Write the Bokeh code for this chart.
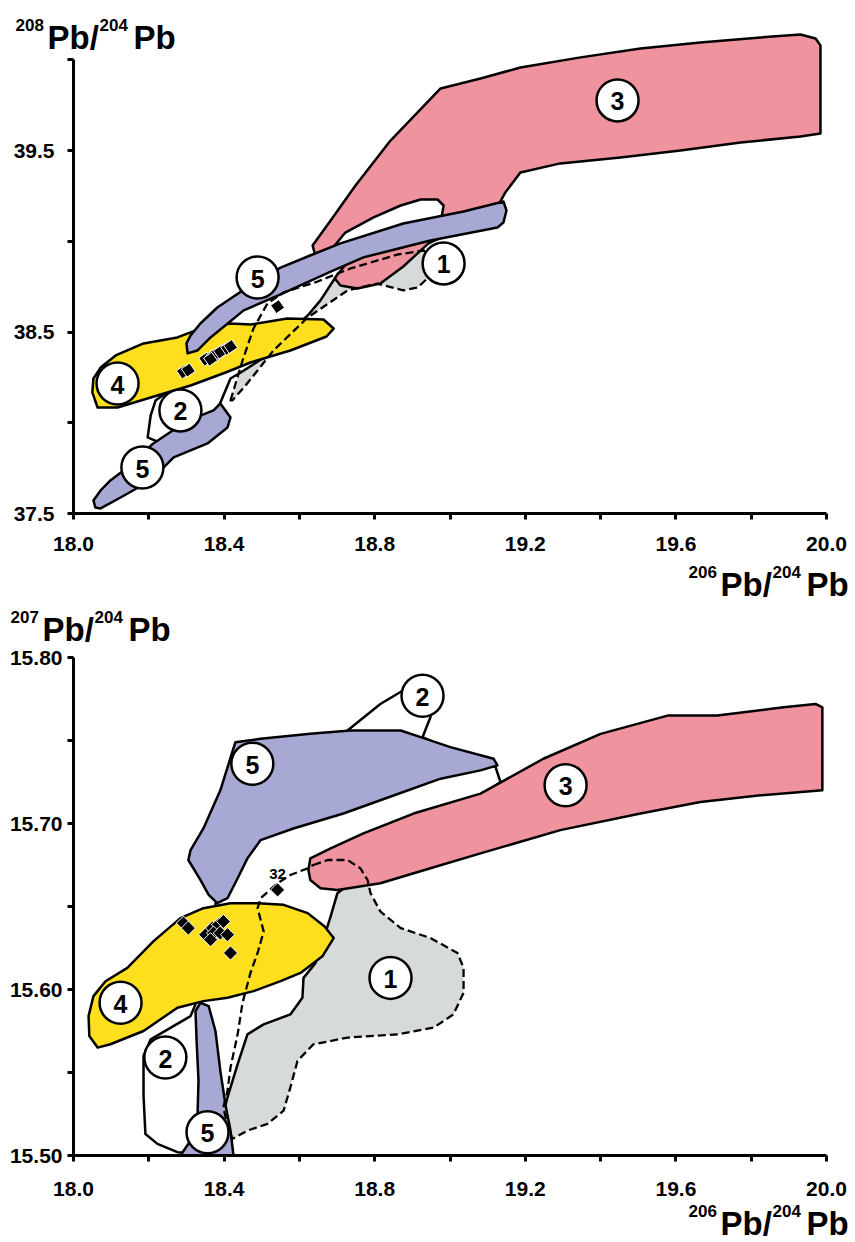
from bokeh.plotting import figure
from bokeh.layouts import column
from bokeh.models import Range1d, FixedTicker, PrintfTickFormatter, Label
from bokeh.core.properties import value
from bokeh.embed import file_html
from bokeh.resources import INLINE

FONT = "Liberation Sans"

# ---------------- data ----------------
x_ticks = [18.0, 18.4, 18.8, 19.2, 19.6, 20.0]
x_minor = [18.2, 18.6, 19.0, 19.4, 19.8]
y1_ticks = [37.5, 38.5, 39.5]
y1_minor = [38.0, 39.0, 40.0]
y2_ticks = [15.50, 15.60, 15.70, 15.80]
y2_minor = [15.55, 15.65, 15.75]

# ---- upper panel (208Pb/204Pb vs 206Pb/204Pb) fields ----
f1_top_x = [18.417, 18.433, 18.449, 18.478, 18.515, 18.558, 18.648, 18.736, 18.861, 18.930, 18.967, 18.948, 18.914, 18.876, 18.807, 18.728, 18.622, 18.531, 18.457, 18.422]
f1_top_y = [38.123, 38.233, 38.343, 38.519, 38.657, 38.718, 38.778, 38.850, 38.927, 38.949, 38.916, 38.811, 38.745, 38.729, 38.767, 38.729, 38.580, 38.398, 38.205, 38.123]

f3_top_x = [18.635, 18.683, 18.749, 18.842, 18.975, 19.081, 19.187, 19.347, 19.506, 19.665, 19.825, 19.931, 19.971, 19.984, 19.984, 19.931, 19.772, 19.612, 19.453, 19.293, 19.187, 19.147, 19.121, 19.028, 18.943, 18.908, 18.876, 18.815, 18.754, 18.709, 18.677, 18.643]
f3_top_y = [38.977, 39.114, 39.307, 39.555, 39.842, 39.897, 39.957, 40.013, 40.062, 40.095, 40.123, 40.139, 40.117, 40.079, 39.594, 39.577, 39.544, 39.500, 39.462, 39.429, 39.379, 39.269, 39.170, 39.070, 38.988, 38.922, 38.861, 38.767, 38.740, 38.756, 38.839, 38.916]

f2_top_x = [18.197, 18.205, 18.218, 18.271, 18.351, 18.377, 18.470, 18.576, 18.629, 18.683, 18.722, 18.797, 18.869, 18.922, 18.967, 18.983, 18.977, 18.922, 18.815, 18.736, 18.699, 18.656, 18.622, 18.563, 18.502, 18.444, 18.417, 18.388, 18.351, 18.258]
f2_top_y = [37.919, 38.040, 38.123, 38.205, 38.426, 38.536, 38.701, 38.839, 38.883, 38.949, 39.048, 39.131, 39.197, 39.230, 39.230, 39.197, 39.125, 39.081, 38.993, 38.905, 38.811, 38.674, 38.591, 38.481, 38.354, 38.277, 38.244, 38.101, 38.012, 37.864]

f4_top_x = [18.064, 18.050, 18.053, 18.072, 18.112, 18.186, 18.276, 18.337, 18.417, 18.470, 18.568, 18.664, 18.691, 18.672, 18.576, 18.470, 18.404, 18.311, 18.205, 18.117]
f4_top_y = [38.084, 38.167, 38.244, 38.304, 38.371, 38.437, 38.470, 38.519, 38.547, 38.541, 38.574, 38.569, 38.519, 38.475, 38.398, 38.332, 38.277, 38.205, 38.139, 38.084]

f5a_top_x = [18.303, 18.300, 18.311, 18.337, 18.382, 18.457, 18.550, 18.622, 18.709, 18.876, 19.036, 19.142, 19.150, 19.142, 19.126, 18.948, 18.770, 18.683, 18.550, 18.452, 18.364, 18.329]
f5a_top_y = [38.382, 38.437, 38.481, 38.547, 38.635, 38.740, 38.855, 38.916, 38.988, 39.098, 39.164, 39.219, 39.170, 39.103, 39.076, 39.004, 38.911, 38.833, 38.707, 38.619, 38.470, 38.398]

f5b_top_x = [18.058, 18.053, 18.072, 18.098, 18.133, 18.212, 18.303, 18.372, 18.390, 18.417, 18.409, 18.356, 18.266, 18.205, 18.125, 18.072]
f5b_top_y = [37.533, 37.572, 37.627, 37.682, 37.737, 37.886, 38.012, 38.068, 38.106, 38.029, 37.974, 37.886, 37.809, 37.682, 37.588, 37.528]

# ---- lower panel (207Pb/204Pb vs 206Pb/204Pb) fields ----
f1_bot_x = [18.637, 18.675, 18.728, 18.762, 18.781, 18.789, 18.815, 18.869, 18.948, 19.020, 19.036, 19.036, 19.009, 18.956, 18.861, 18.728, 18.637, 18.595, 18.576, 18.558, 18.515, 18.462, 18.422, 18.406, 18.398, 18.409, 18.417, 18.436, 18.449, 18.470, 18.489, 18.505, 18.489, 18.497, 18.542, 18.576, 18.622]
f1_bot_y = [15.675, 15.678, 15.678, 15.673, 15.666, 15.658, 15.647, 15.637, 15.631, 15.622, 15.613, 15.598, 15.585, 15.577, 15.573, 15.571, 15.567, 15.557, 15.541, 15.527, 15.519, 15.515, 15.510, 15.521, 15.529, 15.539, 15.553, 15.573, 15.592, 15.610, 15.622, 15.635, 15.649, 15.655, 15.664, 15.669, 15.673]

f2_bot_x = [18.276, 18.223, 18.191, 18.186, 18.186, 18.205, 18.311, 18.372, 18.377, 18.396, 18.497, 18.656, 18.722, 18.815, 18.874, 18.900, 18.948, 18.954, 18.948, 18.927, 19.054, 19.121, 19.134, 19.054, 18.922, 18.762, 18.701, 18.683, 18.669, 18.643, 18.611, 18.608, 18.576, 18.505, 18.462, 18.436, 18.409, 18.396, 18.377, 18.356]
f2_bot_y = [15.502, 15.507, 15.513, 15.536, 15.560, 15.570, 15.584, 15.617, 15.651, 15.684, 15.720, 15.747, 15.755, 15.772, 15.780, 15.786, 15.788, 15.774, 15.764, 15.752, 15.738, 15.734, 15.725, 15.711, 15.699, 15.669, 15.658, 15.644, 15.634, 15.616, 15.607, 15.595, 15.585, 15.579, 15.573, 15.555, 15.535, 15.524, 15.509, 15.501]

f3_bot_x = [18.624, 18.629, 18.683, 18.770, 18.903, 19.081, 19.248, 19.400, 19.578, 19.710, 19.886, 19.971, 19.989, 19.989, 19.825, 19.665, 19.506, 19.293, 19.081, 18.948, 18.815, 18.701, 18.656, 18.629]
f3_bot_y = [15.672, 15.679, 15.685, 15.694, 15.706, 15.718, 15.739, 15.754, 15.765, 15.765, 15.770, 15.772, 15.770, 15.720, 15.717, 15.713, 15.706, 15.696, 15.682, 15.673, 15.664, 15.660, 15.661, 15.666]

f4_bot_x = [18.064, 18.042, 18.040, 18.053, 18.085, 18.143, 18.212, 18.284, 18.345, 18.417, 18.489, 18.558, 18.622, 18.667, 18.691, 18.661, 18.603, 18.550, 18.478, 18.409, 18.345, 18.276, 18.186, 18.098]
f4_bot_y = [15.565, 15.572, 15.584, 15.596, 15.605, 15.613, 15.629, 15.643, 15.649, 15.652, 15.652, 15.651, 15.646, 15.638, 15.631, 15.620, 15.610, 15.605, 15.599, 15.595, 15.593, 15.589, 15.575, 15.567]

f5a_bot_x = [18.430, 18.497, 18.629, 18.736, 18.815, 18.869, 18.922, 19.001, 19.116, 19.126, 19.081, 18.975, 18.815, 18.717, 18.584, 18.497, 18.462, 18.436, 18.409, 18.382, 18.359, 18.337, 18.305, 18.311, 18.345, 18.390]
f5a_bot_y = [15.749, 15.751, 15.754, 15.756, 15.756, 15.756, 15.752, 15.746, 15.739, 15.735, 15.732, 15.727, 15.714, 15.706, 15.697, 15.690, 15.679, 15.667, 15.655, 15.652, 15.657, 15.666, 15.678, 15.684, 15.697, 15.720]

f5b_bot_x = [18.337, 18.359, 18.377, 18.390, 18.404, 18.417, 18.425, 18.284, 18.311, 18.329, 18.332, 18.327, 18.324]
f5b_bot_y = [15.592, 15.590, 15.575, 15.551, 15.530, 15.515, 15.500, 15.500, 15.509, 15.521, 15.545, 15.569, 15.587]

# ---- samples (black diamonds) ----
pb206 = [18.292, 18.305, 18.351, 18.369, 18.385, 18.398, 18.372, 18.390, 18.409, 18.364, 18.417, 18.542]
pb208 = [38.28, 38.29, 38.35, 38.36, 38.38, 38.40, 38.37, 38.39, 38.41, 38.35, 38.42, 38.64]
pb207 = [15.640, 15.637, 15.633, 15.637, 15.639, 15.641, 15.634, 15.634, 15.633, 15.630, 15.622, 15.660]
sample_note = "32"

# ---- field number markers ----
tag_top_txt = ["4", "2", "5", "5", "1", "3"]
tag_top_x = [18.117, 18.284, 18.183, 18.489, 18.983, 19.445]
tag_top_y = [38.216, 38.068, 37.753, 38.800, 38.878, 39.776]
tag_bot_txt = ["2", "5", "3", "1", "4", "2", "5"]
tag_bot_x = [18.927, 18.475, 19.307, 18.842, 18.125, 18.244, 18.356]
tag_bot_y = [15.777, 15.736, 15.723, 15.607, 15.592, 15.559, 15.514]

# ---------------- styling / layout ----------------
PINK = "#EF939F"
BLUE = "#A7A9D4"
YELLOW = "#FEDF1E"
GRAY = "#D7DADA"

W = 855
H1, H2 = 604, 638
AX_X0 = 73          # page x of 18.0
PPX = 376.5         # px per unit of 206Pb/204Pb
AX1_Y0 = 513        # page y of 37.5 (upper panel)
PPY1 = 181.5
AX2_Y0 = 1155       # page y of 15.50 (lower panel)
PPY2 = 1660.0

XR = (18.0 - AX_X0 / PPX, 18.0 + (W - AX_X0) / PPX)
YR1 = (37.5 - (H1 - AX1_Y0) / PPY1, 37.5 + AX1_Y0 / PPY1)
YR2 = (15.5 - (H1 + H2 - AX2_Y0) / PPY2, 15.5 + (AX2_Y0 - H1) / PPY2)


def make_fig(h, yr, xloc, yloc):
    p = figure(width=W, height=h, output_backend="svg", toolbar_location=None,
               x_range=Range1d(*XR), y_range=Range1d(*yr),
               min_border=0, min_border_left=0, min_border_right=0,
               min_border_top=0, min_border_bottom=0)
    p.xgrid.visible = False
    p.ygrid.visible = False
    p.outline_line_color = None
    p.background_fill_color = "white"
    p.border_fill_color = "white"
    for ax in (p.xaxis[0], p.yaxis[0]):
        ax.axis_line_width = 3
        ax.axis_line_color = "black"
        ax.major_tick_line_width = 3
        ax.minor_tick_line_width = 3
        ax.major_tick_line_color = "black"
        ax.minor_tick_line_color = "black"
        ax.major_tick_in = 0
        ax.minor_tick_in = 0
        ax.major_tick_out = 6
        ax.minor_tick_out = 6
        ax.major_label_text_font = FONT
        ax.major_label_text_font_style = "bold"
        ax.major_label_text_font_size = "21px"
        ax.major_label_text_color = "black"
    p.xaxis.ticker = FixedTicker(ticks=x_ticks, minor_ticks=x_minor)
    p.xaxis.formatter = PrintfTickFormatter(format="%.1f")
    p.xaxis.bounds = (18.0, 20.0)
    p.xaxis.fixed_location = xloc
    p.yaxis.fixed_location = yloc
    return p


def field(p, xs, ys, color):
    p.patch(xs, ys, fill_color=color, line_color="black", line_width=2.5,
            line_join="round")


def dashed(p, xs, ys):
    p.patch(xs, ys, fill_alpha=0, line_color="black", line_width=2.3,
            line_dash="8 4", line_join="round")


def tags(p, xs, ys, txt):
    p.scatter(xs, ys, marker="circle", size=42, fill_color="white",
              line_color="black", line_width=2.5)
    p.text(xs, ys, text=txt, text_align="center", text_baseline="middle",
           text_font=value(FONT), text_font_style="bold", text_font_size="25px",
           text_color="black", y_offset=1)


def title(p, px, pcy, sup1, sup2, conv):
    # px: page x of the left edge; pcy: page y of the centre of the large letters
    parts = [(sup1, 0, -13, "17px"), ("Pb/", 32, 0, "33px"),
             (sup2, 84, -13, "17px"), ("Pb", 118, 0, "33px")]
    for txt, dx, dy, fs in parts:
        x, y = conv(px + dx, pcy + dy)
        p.add_layout(Label(x=x, y=y, text=txt, text_font=FONT, text_font_style="bold",
                           text_font_size=fs, text_baseline="middle",
                           text_align="left", text_color="black"))


def conv1(px, py):
    return 18.0 + (px - AX_X0) / PPX, 37.5 + (AX1_Y0 - py) / PPY1


def conv2(px, py):
    return 18.0 + (px - AX_X0) / PPX, 15.5 + (AX2_Y0 - py) / PPY2


# ---------------- upper panel ----------------
p1 = make_fig(H1, YR1, 37.5, 18.0)
p1.yaxis.ticker = FixedTicker(ticks=y1_ticks, minor_ticks=y1_minor)
p1.yaxis.formatter = PrintfTickFormatter(format="%.1f")
p1.yaxis.bounds = (37.5, 40.0)
p1.yaxis.major_label_standoff = 13
p1.xaxis.major_label_standoff = 17

p1.patch(f1_top_x, f1_top_y, fill_color=GRAY, line_color=None)
field(p1, f3_top_x, f3_top_y, PINK)
field(p1, f2_top_x, f2_top_y, "white")
field(p1, f4_top_x, f4_top_y, YELLOW)
field(p1, f5a_top_x, f5a_top_y, BLUE)
field(p1, f5b_top_x, f5b_top_y, BLUE)
dashed(p1, f1_top_x, f1_top_y)
p1.scatter(pb206, pb208, marker="square", angle=35, angle_units="deg", size=10,
           fill_color="black", line_color="white", line_width=1)
tags(p1, tag_top_x, tag_top_y, tag_top_txt)

title(p1, 15, 37, "208", "204", conv1)
title(p1, 688, 584, "206", "204", conv1)

# ---------------- lower panel ----------------
p2 = make_fig(H2, YR2, 15.5, 18.0)
p2.yaxis.ticker = FixedTicker(ticks=y2_ticks, minor_ticks=y2_minor)
p2.yaxis.formatter = PrintfTickFormatter(format="%.2f")
p2.yaxis.bounds = (15.5, 15.8)
p2.yaxis.major_label_standoff = 5
p2.xaxis.major_label_standoff = 20

p2.patch(f1_bot_x, f1_bot_y, fill_color=GRAY, line_color=None)
field(p2, f2_bot_x, f2_bot_y, "white")
field(p2, f3_bot_x, f3_bot_y, PINK)
field(p2, f4_bot_x, f4_bot_y, YELLOW)
field(p2, f5a_bot_x, f5a_bot_y, BLUE)
field(p2, f5b_bot_x, f5b_bot_y, BLUE)
dashed(p2, f1_bot_x, f1_bot_y)
p2.scatter(pb206, pb207, marker="square", angle=45, angle_units="deg", size=10,
           fill_color="black", line_color="white", line_width=1)
p2.text([pb206[-1]], [pb207[-1]], text=[sample_note], text_align="center",
        text_baseline="alphabetic", text_font=value(FONT), text_font_style="bold",
        text_font_size="15px", text_color="black", y_offset=-16)
tags(p2, tag_bot_x, tag_bot_y, tag_bot_txt)

title(p2, 10, 629, "207", "204", conv2)
title(p2, 688, 1223, "206", "204", conv2)

layout = column(p1, p2, spacing=0)
open("out.html", "w").write(file_html(layout, INLINE))
